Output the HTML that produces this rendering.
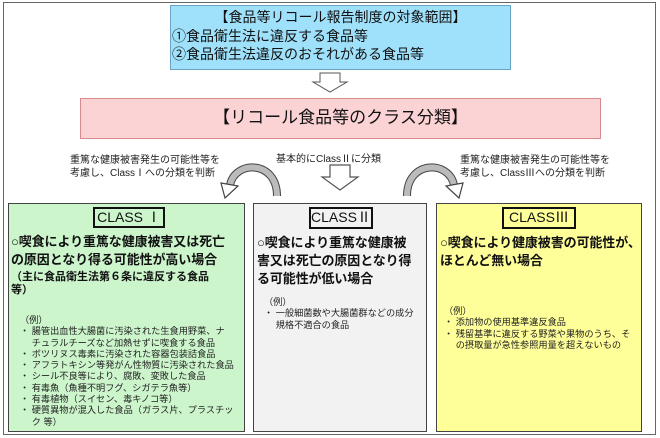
<!DOCTYPE html>
<html><head><meta charset="utf-8"><style>
*{margin:0;padding:0;box-sizing:border-box}
body{width:660px;height:438px;background:#fff;position:relative;overflow:hidden;font-family:"Liberation Sans","Noto Sans CJK JP",sans-serif;color:#111}
.a{position:absolute;white-space:nowrap}
.box{position:absolute;border:1.5px solid #555}
.h{font-weight:bold;font-size:13px;line-height:18px;letter-spacing:-0.1px}
.s{font-size:9.2px;line-height:11.3px;color:#222}
.t{position:absolute;border:2.5px solid #111;background:inherit;font-size:14px;text-align:center;line-height:17px}
</style></head><body>
<div class="box" style="left:3px;top:2px;width:653px;height:433px;border:1.5px solid #666"></div>
<div class="box" style="left:170px;top:5px;width:341px;height:65px;background:#9fe1fb;border-color:#6aa3c5"></div>
<div class="a" style="left:180px;top:8px;width:321px;text-align:center;font-size:14px;line-height:18px">【食品等リコール報告制度の対象範囲】</div>
<div class="a" style="left:172px;top:27px;font-size:14px;line-height:18px">①食品衛生法に違反する食品等<br>②食品衛生法違反のおそれがある食品等</div>
<div class="box" style="left:80px;top:98px;width:521px;height:41px;background:#fcd3d5;border-color:#d98a8e"></div>
<div class="a" style="left:80px;top:108px;width:521px;text-align:center;font-size:17px;line-height:20px">【リコール食品等のクラス分類】</div>
<svg class="a" style="left:0;top:0" width="660" height="438">
<polygon points="320,73 340,73 340,82 347,82 330,92 313,82 320,82" fill="#fff" stroke="#555" stroke-width="1"/>
<polygon points="330,165 350,165 350,177 358,177 340,190 322,177 330,177" fill="#fff" stroke="#555" stroke-width="1.2"/>
<path d="M277,196 C277,160 235,160 230,185" fill="none" stroke="#444" stroke-width="8"/>
<path d="M277,196 C277,160 235,160 230,185" fill="none" stroke="#bbb" stroke-width="6"/>
<polygon points="221,183 238,186 225,198" fill="#fff" stroke="#444" stroke-width="1.2"/>
<path d="M407,196 C407,160 449,160 454,185" fill="none" stroke="#444" stroke-width="8"/>
<path d="M407,196 C407,160 449,160 454,185" fill="none" stroke="#bbb" stroke-width="6"/>
<polygon points="463,183 446,186 459,198" fill="#fff" stroke="#444" stroke-width="1.2"/>
</svg>
<div class="a" style="left:70px;top:154px;font-size:10px;line-height:13px;color:#222">重篤な健康被害発生の可能性等を<br>考慮し、ClassⅠへの分類を判断</div>
<div class="a" style="left:276px;top:150px;font-size:10px;color:#222">基本的にClassⅡに分類</div>
<div class="a" style="left:460px;top:154px;font-size:10px;line-height:13px;color:#222">重篤な健康被害発生の可能性等を<br>考慮し、ClassⅢへの分類を判断</div>

<div class="box" style="left:8px;top:203px;width:237px;height:229px;background:#ccf5cc;border-color:#444"></div>
<div class="t" style="left:93px;top:207px;width:72px;height:21px;background:#ccf5cc">CLASS Ⅰ</div>
<div class="a h" style="left:11px;top:233px">○喫食により重篤な健康被害又は死亡<br>の原因となり得る可能性が高い場合</div>
<div class="a" style="left:11px;top:271px;font-weight:bold;font-size:11px;line-height:13px">（主に食品衛生法第６条に違反する食品<br>等）</div>
<div class="a s" style="left:20px;top:315px">（例）<br>・ 腸管出血性大腸菌に汚染された生食用野菜、ナ<br>　 チュラルチーズなど加熱せずに喫食する食品<br>・ ボツリヌス毒素に汚染された容器包装詰食品<br>・ アフラトキシン等発がん性物質に汚染された食品<br>・ シール不良等により、腐敗、変敗した食品<br>・ 有毒魚（魚種不明フグ、シガテラ魚等）<br>・ 有毒植物（スイセン、毒キノコ等）<br>・ 硬質異物が混入した食品（ガラス片、プラスチッ<br>　 ク 等）</div>

<div class="box" style="left:253px;top:203px;width:174px;height:229px;background:#f2f2f2;border-color:#444"></div>
<div class="t" style="left:309px;top:207px;width:64px;height:22px;background:#f2f2f2">CLASSⅡ</div>
<div class="a h" style="left:257px;top:234px">○喫食により重篤な健康被<br>害又は死亡の原因となり得<br>る可能性が低い場合</div>
<div class="a s" style="left:264px;top:297px">（例）<br>・ 一般細菌数や大腸菌群などの成分<br>　 規格不適合の食品</div>

<div class="box" style="left:436px;top:203px;width:206px;height:229px;background:#ffff99;border-color:#444"></div>
<div class="t" style="left:502px;top:207px;width:74px;height:22px;background:#ffff99">CLASSⅢ</div>
<div class="a h" style="left:440px;top:234px">○喫食により健康被害の可能性が、<br>ほとんど無い場合</div>
<div class="a s" style="left:444px;top:306px">（例）<br>・ 添加物の使用基準違反食品<br>・ 残留基準に違反する野菜や果物のうち、そ<br>　 の摂取量が急性参照用量を超えないもの</div>
</body></html>
